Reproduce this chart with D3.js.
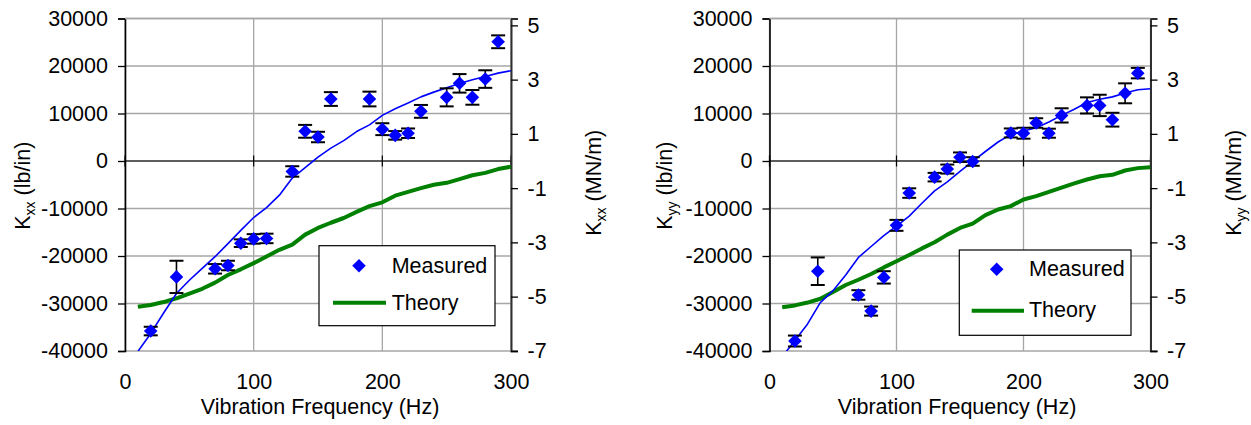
<!DOCTYPE html>
<html>
<head>
<meta charset="utf-8">
<script src="https://cdn.jsdelivr.net/npm/d3@7"></script>
<style>
  html, body { margin: 0; padding: 0; background: #fff; }
  svg { display: block; font-family: "Liberation Sans", Arial, sans-serif; }
</style>
</head>
<body>
<svg id="fig" width="1251" height="425"></svg>
<script>
// ---- Data -----------------------------------------------------------------
// Measured direct stiffness (lb/in) with error half-widths, per test frequency (Hz)
const measFreqXX = [20, 40, 70, 80, 90, 100, 110, 130, 140, 150, 160, 190, 200, 210, 220, 230, 250, 260, 270, 280, 290];
const measKxx    = [-35800, -24400, -22700, -22000, -17300, -16400, -16300, -2200, 6250, 5050, 13050, 13050, 6700, 5400, 5850, 10450, 13400, 16350, 13400, 17250, 25100];
const errKxx     = [900, 3400, 1000, 1000, 800, 1000, 1000, 1100, 1350, 1100, 1450, 1550, 1250, 900, 1000, 1350, 1900, 1950, 1550, 1850, 1350];

const measFreqYY = [20, 38, 70, 80, 90, 100, 110, 130, 140, 150, 160, 190, 200, 210, 220, 230, 250, 260, 270, 280, 290];
const measKyy    = [-37900, -23200, -28200, -31600, -24500, -13550, -6750, -3400, -1700, 800, -100, 5900, 5850, 8000, 5850, 9600, 11700, 11700, 8700, 14250, 18500];
const errKyy     = [1150, 2900, 1000, 950, 1300, 1150, 1000, 900, 950, 1000, 900, 950, 1150, 1000, 950, 1500, 1700, 2250, 1450, 2100, 1100];

// Curve frequencies (Hz)
const curveFreq = [10, 20, 30, 40, 50, 60, 70, 80, 90, 100, 110, 120, 130, 140, 150, 160, 170, 180, 190, 200, 210, 220, 230, 240, 250, 260, 270, 280, 290, 300];

// Trend through the measurements (thin blue)
const fitKxx = [-40100, -36300, -32000, -27900, -25100, -22600, -20150, -17400, -14600, -11900, -9800, -7200, -3600, -1400, 800, 2700, 4300, 6200, 7600, 9600, 11000, 12200, 13500, 14500, 15400, 16300, 17100, 17800, 18500, 19000];
const fitKyy = [-41200, -37800, -34300, -29800, -27300, -24000, -20300, -18000, -15700, -13700, -11600, -8900, -6300, -4400, -2200, -100, 2000, 4000, 5600, 6300, 7000, 8200, 9600, 10900, 12300, 13000, 13500, 14300, 15000, 15200];

// Theoretical prediction (green)
const theoryKxx = [-30700, -30300, -29700, -28900, -27900, -26900, -25600, -24000, -22800, -21500, -20100, -18700, -17600, -15500, -14100, -13000, -12000, -10700, -9500, -8700, -7300, -6500, -5700, -5000, -4600, -3800, -3000, -2500, -1700, -1200];
const theoryKyy = [-30800, -30400, -29800, -29000, -27600, -26100, -25000, -23800, -22400, -21100, -19800, -18400, -17100, -15500, -14100, -13200, -11400, -10200, -9500, -8100, -7400, -6500, -5600, -4700, -3900, -3200, -2900, -2000, -1500, -1300];

// Axis ticks
const freqTicks = [0, 100, 200, 300];
const lbinTicks = [-40000, -30000, -20000, -10000, 0, 10000, 20000, 30000];
const mnmTicks  = [-7, -5, -3, -1, 1, 3, 5];
const LBIN_PER_MNM = 5710.15;   // 1 MN/m expressed in lb/in

// ---- Panel layout ---------------------------------------------------------
const panels = [
  { sub: "xx", freq: measFreqXX, meas: measKxx, err: errKxx, fit: fitKxx, theory: theoryKxx,
    x0: 125, x1: 511, yTop: 18.5, yBot: 351, leftTitleX: 30, rightTitleX: 601, xTitleX: 320,
    legend: { x: 319, y: 245.7, w: 176, h: 80, dX: 40, dY: 20, tX: 72.7, mY: 27, lx0: 14, lx1: 67, lY: 57, thY: 64.3 } },
  { sub: "yy", freq: measFreqYY, meas: measKyy, err: errKyy, fit: fitKyy, theory: theoryKyy,
    x0: 769.5, x1: 1150.5, yTop: 18.5, yBot: 351, leftTitleX: 672, rightTitleX: 1241, xTitleX: 957,
    legend: { x: 959.3, y: 250, w: 171.7, h: 85.3, dX: 37.4, dY: 19.3, tX: 69.7, mY: 26, lx0: 12.4, lx1: 64.7, lY: 60.7, thY: 67 } }
];

const svg = d3.select("#fig");
const FS = 21.5;
const gridColor = "#a6a6a6";
const diamond = d3.symbol().type(d3.symbolSquare).size(92);

panels.forEach((p, i) => {
  const x = d3.scaleLinear().domain([0, 300]).range([p.x0, p.x1]);
  const y = d3.scaleLinear().domain([-40000, 30000]).range([p.yBot, p.yTop]);
  const y2 = d3.scaleLinear().domain([-40000 / LBIN_PER_MNM, 30000 / LBIN_PER_MNM]).range([p.yBot, p.yTop]);

  const g = svg.append("g");

  // plot background and clip
  g.append("rect").attr("x", p.x0).attr("y", p.yTop)
    .attr("width", p.x1 - p.x0).attr("height", p.yBot - p.yTop).attr("fill", "#fff");
  svg.append("defs").append("clipPath").attr("id", "clip" + i)
    .append("rect").attr("x", p.x0).attr("y", p.yTop)
    .attr("width", p.x1 - p.x0).attr("height", p.yBot - p.yTop);

  // grid
  g.selectAll(".hgrid").data(lbinTicks).join("line")
    .attr("x1", p.x0).attr("x2", p.x1)
    .attr("y1", d => y(d)).attr("y2", d => y(d))
    .attr("stroke", gridColor).attr("stroke-width", 1.3);
  g.selectAll(".vgrid").data(freqTicks).join("line")
    .attr("x1", d => x(d)).attr("x2", d => x(d))
    .attr("y1", p.yTop).attr("y2", p.yBot)
    .attr("stroke", gridColor).attr("stroke-width", 1.3);

  // zero line with frequency tick marks crossing it
  g.append("line").attr("x1", p.x0).attr("x2", p.x1)
    .attr("y1", y(0)).attr("y2", y(0)).attr("stroke", "#000").attr("stroke-width", 1.2);
  g.selectAll(".xtick").data(freqTicks).join("line")
    .attr("x1", d => x(d)).attr("x2", d => x(d))
    .attr("y1", y(0) - 5.5).attr("y2", y(0) + 5.5)
    .attr("stroke", "#000").attr("stroke-width", 1.2);

  // left axis (lb/in)
  const ax = g.append("g").attr("transform", `translate(${p.x0},0)`)
    .call(d3.axisLeft(y).tickValues(lbinTicks).tickSize(7).tickPadding(10).tickFormat(d => String(d)));
  ax.select(".domain").attr("stroke", "#000").attr("stroke-width", 1.6);
  ax.selectAll(".tick line").attr("stroke", "#000").attr("stroke-width", 1.3);
  ax.selectAll("text").attr("font-size", FS).attr("fill", "#000")
    .attr("font-family", "Liberation Sans, Arial, sans-serif");

  // right axis (MN/m)
  const ax2 = g.append("g").attr("transform", `translate(${p.x1},0)`)
    .call(d3.axisRight(y2).tickValues(mnmTicks).tickSize(7).tickPadding(9.5).tickFormat(d => String(d)));
  ax2.select(".domain").attr("stroke", "#303030").attr("stroke-width", 2);
  ax2.selectAll(".tick line").attr("stroke", "#000").attr("stroke-width", 1.3);
  ax2.selectAll("text").attr("font-size", FS).attr("fill", "#000")
    .attr("font-family", "Liberation Sans, Arial, sans-serif");

  // frequency labels along the bottom
  const ax3 = g.append("g").attr("transform", `translate(0,${p.yBot})`)
    .call(d3.axisBottom(x).tickValues(freqTicks).tickSize(0).tickPadding(23).tickFormat(d => String(d)));
  ax3.select(".domain").remove();
  ax3.selectAll("text").attr("font-size", FS).attr("fill", "#000")
    .attr("font-family", "Liberation Sans, Arial, sans-serif");

  // plot border top/bottom
  g.append("line").attr("x1", p.x0).attr("x2", p.x1).attr("y1", p.yTop).attr("y2", p.yTop)
    .attr("stroke", gridColor).attr("stroke-width", 1.3);

  // curves
  const plot = g.append("g").attr("clip-path", `url(#clip${i})`);
  const line = d3.line().x(d => x(d[0])).y(d => y(d[1]));
  plot.append("path").datum(d3.zip(curveFreq, p.theory)).attr("d", line)
    .attr("fill", "none").attr("stroke", "#008000").attr("stroke-width", 4).attr("stroke-linejoin", "round");
  plot.append("path").datum(d3.zip(curveFreq, p.fit)).attr("d", line)
    .attr("fill", "none").attr("stroke", "#0000ff").attr("stroke-width", 1.6).attr("stroke-linejoin", "round");

  // error bars
  const pts = p.freq.map((f, k) => ({ f, v: p.meas[k], e: p.err[k] }));
  const eb = g.append("g").attr("stroke", "#000");
  eb.selectAll(".stem").data(pts).join("line")
    .attr("x1", d => x(d.f)).attr("x2", d => x(d.f))
    .attr("y1", d => y(d.v + d.e)).attr("y2", d => y(d.v - d.e)).attr("stroke-width", 1.6);
  eb.selectAll(".capT").data(pts).join("line")
    .attr("x1", d => x(d.f) - 7).attr("x2", d => x(d.f) + 7)
    .attr("y1", d => y(d.v + d.e)).attr("y2", d => y(d.v + d.e)).attr("stroke-width", 2);
  eb.selectAll(".capB").data(pts).join("line")
    .attr("x1", d => x(d.f) - 7).attr("x2", d => x(d.f) + 7)
    .attr("y1", d => y(d.v - d.e)).attr("y2", d => y(d.v - d.e)).attr("stroke-width", 2);

  // measured points
  g.selectAll(".pt").data(pts).join("path")
    .attr("d", diamond)
    .attr("transform", d => `translate(${x(d.f)},${y(d.v)}) rotate(45)`)
    .attr("fill", "#0000ff");

  // axis titles
  const title = (tx, ty, unit) => {
    const t = g.append("text")
      .attr("transform", `translate(${tx},${ty}) rotate(-90)`)
      .attr("text-anchor", "middle").attr("font-size", FS).attr("fill", "#000");
    t.append("tspan").text("K");
    t.append("tspan").attr("font-size", 14).attr("dy", 5).text(p.sub);
    t.append("tspan").attr("dy", -5).text(" " + unit);
  };
  const midY = (p.yTop + p.yBot) / 2;
  title(p.leftTitleX, midY + 1, "(lb/in)");
  title(p.rightTitleX, midY - 2, "(MN/m)");

  g.append("text").attr("x", p.xTitleX).attr("y", 414)
    .attr("text-anchor", "middle").attr("font-size", FS).attr("fill", "#000")
    .text("Vibration Frequency (Hz)");

  // legend
  const L = p.legend;
  const lg = g.append("g").attr("transform", `translate(${L.x},${L.y})`);
  lg.append("rect").attr("width", L.w).attr("height", L.h)
    .attr("fill", "#fff").attr("stroke", "#000").attr("stroke-width", 1.2);
  lg.append("path").attr("d", diamond).attr("transform", `translate(${L.dX},${L.dY}) rotate(45)`).attr("fill", "#0000ff");
  lg.append("text").attr("x", L.tX).attr("y", L.mY).attr("font-size", FS).attr("fill", "#000").text("Measured");
  lg.append("line").attr("x1", L.lx0).attr("x2", L.lx1).attr("y1", L.lY).attr("y2", L.lY)
    .attr("stroke", "#008000").attr("stroke-width", 4);
  lg.append("text").attr("x", L.tX).attr("y", L.thY).attr("font-size", FS).attr("fill", "#000").text("Theory");
});
</script>
</body>
</html>
